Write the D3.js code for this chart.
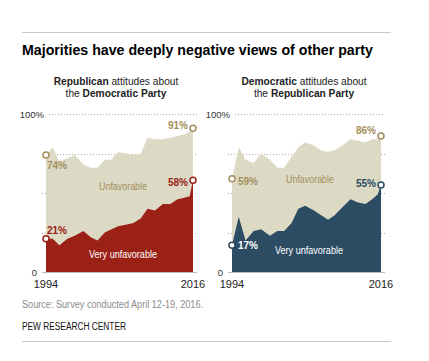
<!DOCTYPE html>
<html>
<head>
<meta charset="utf-8">
<script src="https://cdn.jsdelivr.net/npm/d3@7"></script>
<style>
  body { margin: 0; background: #fff; }
  svg { font-family: "Liberation Sans", Arial, sans-serif; }
</style>
</head>
<body>
<svg id="chart" width="429" height="361"></svg>
<script>
// survey dates (fractional years), shared by both panels
const years = [1994, 1995, 1996, 1997.2, 1998.3, 1999.6, 2000.7, 2001.7, 2002.8, 2003.8, 2004.8,
  2006.1, 2007.1, 2008.2, 2009.2, 2010.3, 2011.5, 2012.6, 2013.7, 2014.7, 2015.5, 2016]

// Republicans about the Democratic Party
const repUnfav = [74, 79, 70, 72, 74, 68, 66, 66, 71, 71, 76, 75, 74, 75, 85, 84, 84, 85, 86, 87, 89, 91]
const repVeryUnfav = [21, 21, 17, 21, 23, 26, 22, 20, 25, 27, 29, 30, 31, 34, 40, 39, 43, 43, 46, 47, 48, 58]

// Democrats about the Republican Party
const demUnfav = [59, 79, 71, 69, 75, 71, 66, 66, 73, 79, 82, 80, 77, 76, 77, 80, 84, 83, 82, 84, 84, 86]
const demVeryUnfav = [17, 35, 20, 26, 27, 23, 26, 26, 31, 40, 42, 39, 36, 33, 36, 41, 46, 44, 43, 46, 49, 55]

const yTicks = [0, 25, 50, 75, 100]
const yearLabels = [1994, 2016]

const beige = '#dcd9c5'
const tan = '#a38f5b'

const svg = d3.select('#chart')

// squeeze a text node to a given width (the original face is condensed)
const fit = (sel, w) => sel.attr('textLength', w).attr('lengthAdjust', 'spacingAndGlyphs')

// frame rules
svg.append('line').attr('x1', 22).attr('x2', 391).attr('y1', 32.5).attr('y2', 32.5)
  .attr('stroke', '#c8c8c8').attr('stroke-width', 1)
svg.append('line').attr('x1', 22).attr('x2', 391).attr('y1', 341.5).attr('y2', 341.5)
  .attr('stroke', '#c8c8c8').attr('stroke-width', 1)

svg.append('text').attr('x', 22).attr('y', 55)
  .style('font-size', '14.2px').style('font-weight', 'bold').attr('fill', '#000')
  .text('Majorities have deeply negative views of other party')

fit(svg.append('text').attr('x', 22).attr('y', 308)
  .style('font-size', '10px').attr('fill', '#8c8c8c')
  .text('Source: Survey conducted April 12-19, 2016.'), 181)
fit(svg.append('text').attr('x', 22).attr('y', 329.5)
  .style('font-size', '10px').attr('fill', '#111')
  .text('PEW RESEARCH CENTER'), 104)

const y = d3.scaleLinear().domain([0, 100]).range([272, 114])

function panel(opts) {
  const x = d3.scaleLinear().domain([1994, 2016]).range(opts.range)
  const g = svg.append('g')
  const [x0, x1] = opts.range

  // subtitle
  const st = g.append('text').attr('text-anchor', 'middle').style('font-size', '10.2px').attr('fill', '#222')
  st.append('tspan').attr('x', opts.cx).attr('y', 84.5)
    .selectAll('tspan').data(opts.title1).join('tspan')
    .style('font-weight', d => d.b ? 'bold' : 'normal').text(d => d.t)
  st.append('tspan').attr('x', opts.cx).attr('y', 97)
    .selectAll('tspan').data(opts.title2).join('tspan')
    .style('font-weight', d => d.b ? 'bold' : 'normal').text(d => d.t)

  // dotted gridlines
  g.selectAll('.grid').data(yTicks.filter(d => d > 0)).join('line')
    .attr('x1', d => d === 100 ? x0 + 3 : x0 - 4).attr('x2', x1 + 4)
    .attr('y1', d => Math.round(y(d)) + 0.5).attr('y2', d => Math.round(y(d)) + 0.5)
    .attr('stroke', '#aaa').attr('stroke-width', 1).attr('stroke-dasharray', '1,2')

  const data = years.map((yr, i) => ({ yr, top: opts.unfav[i], bot: opts.very[i] }))

  g.append('path').datum(data)
    .attr('fill', beige)
    .attr('d', d3.area().x(d => x(d.yr)).y0(y(0)).y1(d => y(d.top)))
  g.append('path').datum(data)
    .attr('fill', opts.color)
    .attr('d', d3.area().x(d => x(d.yr)).y0(y(0)).y1(d => y(d.bot)))

  // baseline
  g.append('line').attr('x1', x0 - 4).attr('x2', x1 + 4)
    .attr('y1', y(0) + 0.5).attr('y2', y(0) + 0.5).attr('stroke', '#bbb')

  // y labels
  g.append('text').attr('x', x0 - 2).attr('y', y(100) + 3.5).attr('text-anchor', 'end')
    .style('font-size', '9.5px').attr('fill', '#333').text('100%')
  g.append('text').attr('x', x0 - 9).attr('y', y(0) + 3.5).attr('text-anchor', 'end')
    .style('font-size', '9.5px').attr('fill', '#333').text('0')

  // year labels
  g.selectAll('.yr').data(yearLabels).join('text')
    .attr('x', d => x(d)).attr('y', 288).attr('text-anchor', 'middle')
    .style('font-size', '11px').attr('fill', '#222')
    .text(d => d)

  // endpoint markers
  const ends = [0, years.length - 1]
  ends.forEach(i => {
    g.append('circle').attr('cx', x(years[i])).attr('cy', y(opts.unfav[i])).attr('r', 3)
      .attr('fill', '#fff').attr('stroke', tan).attr('stroke-width', 1.5)
    g.append('circle').attr('cx', x(years[i])).attr('cy', y(opts.very[i])).attr('r', 3)
      .attr('fill', '#fff').attr('stroke', opts.color).attr('stroke-width', 1.5)
  })

  // value labels
  const lbl = (xx, yy, txt, fill, anchor) => g.append('text').attr('x', xx).attr('y', yy)
    .attr('text-anchor', anchor).style('font-size', '10px').style('font-weight', 'bold')
    .attr('fill', fill).text(txt)
  const n = years.length - 1
  const d = opts.dy
  lbl(x0 + opts.dx0, y(opts.unfav[0]) + d[0], opts.unfav[0] + '%', tan, 'start')
  lbl(x0 + opts.dx0, y(opts.very[0]) + d[1], opts.very[0] + '%',
    opts.whiteFirst ? '#fff' : opts.color, 'start')
  lbl(x1 - 5, y(opts.unfav[n]) + d[2], opts.unfav[n] + '%', tan, 'end')
  lbl(x1 - 5, y(opts.very[n]) + d[3], opts.very[n] + '%', opts.color, 'end')

  fit(g.append('text').attr('x', opts.ux - 24).attr('y', opts.uy)
    .style('font-size', '10px').attr('fill', tan).text('Unfavorable'), 48)
  fit(g.append('text').attr('x', opts.vx - 34).attr('y', opts.vy)
    .style('font-size', '10px').attr('fill', '#fff').text('Very unfavorable'), 68)
}

panel({
  range: [46, 193], cx: 116, color: '#9b2116',
  title1: [{ t: 'Republican', b: true }, { t: ' attitudes about' }],
  title2: [{ t: 'the ' }, { t: 'Democratic Party', b: true }],
  unfav: repUnfav, very: repVeryUnfav,
  dx0: 1, dy: [14, -5, 0.5, 6], whiteFirst: false,
  ux: 123, uy: 189.5, vx: 123, vy: 257.5
})

panel({
  range: [232, 381], cx: 304, color: '#2b4c62',
  title1: [{ t: 'Democratic', b: true }, { t: ' attitudes about' }],
  title2: [{ t: 'the ' }, { t: 'Republican Party', b: true }],
  unfav: demUnfav, very: demVeryUnfav,
  dx0: 6, dy: [6, 4, -2.5, 2], whiteFirst: true,
  ux: 310, uy: 182.5, vx: 309, vy: 253.5
})
</script>
</body>
</html>
